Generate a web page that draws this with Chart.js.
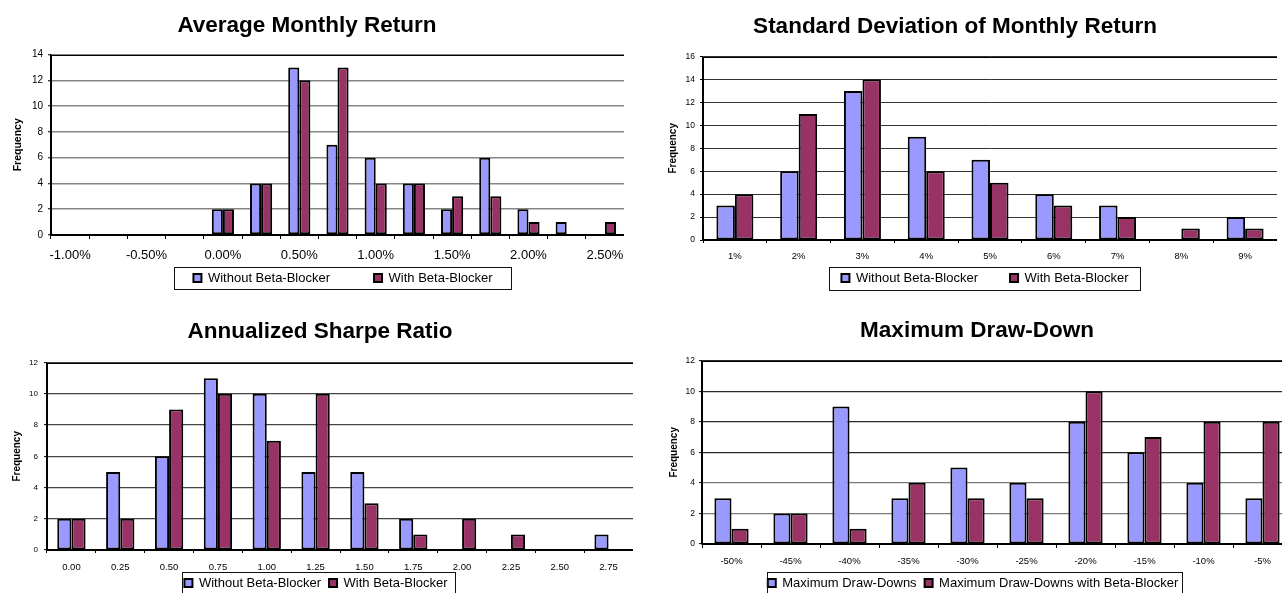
<!DOCTYPE html>
<html>
<head>
<meta charset="utf-8">
<title>Beta-Blocker Histograms</title>
<script src="https://cdn.jsdelivr.net/npm/chart.js@4.4.1/dist/chart.umd.min.js"></script>
<style>
  html, body { margin: 0; padding: 0; background: #fff; overflow: hidden; width: 1282px; height: 593px; position: relative; }
  canvas { position: absolute; }
</style>
</head>
<body>
<canvas id="avgReturn"></canvas>
<canvas id="stdDev"></canvas>
<canvas id="sharpe"></canvas>
<canvas id="drawDown"></canvas>
<script>
// ---- Data ----
const seriesNames = ['Without Beta-Blocker', 'With Beta-Blocker'];
const drawDownNames = ['Maximum Draw-Downs', 'Maximum Draw-Downs with Beta-Blocker'];

const returnBins = ['-1.00%', '-0.75%', '-0.50%', '-0.25%', '0.00%', '0.25%', '0.50%', '0.75%',
                    '1.00%', '1.25%', '1.50%', '1.75%', '2.00%', '2.25%', '2.50%'];
const returnWithout = [0, 0, 0, 0, 2, 4, 13, 7, 6, 4, 2, 6, 2, 1, 0];
const returnWith    = [0, 0, 0, 0, 2, 4, 12, 13, 4, 4, 3, 3, 1, 0, 1];

const stdDevBins = ['1%', '2%', '3%', '4%', '5%', '6%', '7%', '8%', '9%'];
const stdDevWithout = [3, 6, 13, 9, 7, 4, 3, 0, 2];
const stdDevWith    = [4, 11, 14, 6, 5, 3, 2, 1, 1];

const sharpeBins = ['0.00', '0.25', '0.50', '0.75', '1.00', '1.25', '1.50', '1.75', '2.00', '2.25', '2.50', '2.75'];
const sharpeWithout = [2, 5, 6, 11, 10, 5, 5, 2, 0, 0, 0, 1];
const sharpeWith    = [2, 2, 9, 10, 7, 10, 3, 1, 2, 1, 0, 0];

const drawDownBins = ['-50%', '-45%', '-40%', '-35%', '-30%', '-25%', '-20%', '-15%', '-10%', '-5%'];
const drawDownWithout = [3, 2, 9, 3, 5, 4, 8, 6, 4, 3];
const drawDownWith    = [1, 2, 1, 4, 3, 3, 10, 7, 8, 8];

// ---- Styling ----
const BLUE = '#9999FF';
const PLUM = '#993366';
Chart.defaults.font.family = '"Liberation Sans", Arial, Helvetica, sans-serif';
Chart.defaults.color = '#000';

// Plot frame, legend placement and the box around the legend
const framePlugin = {
  id: 'frame',
  beforeDraw(chart, args, o) {
    const lg = chart.legend;
    if (!lg) return;
    const pad = lg.options.labels.padding;
    const fontSize = lg.options.labels.font.size;
    const itemH = Math.max(fontSize, lg.options.labels.boxHeight);
    const w = lg.right - lg.left;
    const cx = o.legendCenter - o.left;
    lg.left = cx - w / 2;
    lg.right = lg.left + w;
    lg.top = o.legendTextY - o.top - itemH / 2 - pad;
    lg.bottom = lg.top + pad + itemH + 12;
  },
  beforeDatasetsDraw(chart, args, o) {
    const a = chart.chartArea;
    const ctx = chart.ctx;
    ctx.save();
    ctx.strokeStyle = '#000';
    ctx.lineWidth = 1;
    ctx.strokeRect(Math.round(a.left) + 0.5, Math.round(a.top) + 0.5,
                   Math.round(a.right - a.left), Math.round(a.bottom - a.top));
    ctx.restore();
  },
  afterDraw(chart, args, o) {
    const ctx = chart.ctx;
    const b = o.legendBox;
    ctx.save();
    ctx.strokeStyle = '#111';
    ctx.lineWidth = 1;
    ctx.strokeRect(Math.round(b[0] - o.left) + 0.5, Math.round(b[2] - o.top) + 0.5,
                   Math.round(b[1] - b[0]), Math.round(b[3] - b[2]));
    ctx.restore();
  }
};

function makeChart(id, spec) {
  const cv = document.getElementById(id);
  cv.width = spec.width;
  cv.height = spec.height;
  cv.style.left = spec.left + 'px';
  cv.style.top = spec.top + 'px';
  cv.style.width = spec.width + 'px';
  cv.style.height = spec.height + 'px';

  return new Chart(cv.getContext('2d'), {
    type: 'bar',
    data: {
      labels: spec.labels,
      datasets: [
        { label: spec.names[0], data: spec.without, backgroundColor: BLUE, borderColor: '#000',
          borderWidth: 2, borderSkipped: false, categoryPercentage: 0.58, barPercentage: 1 },
        { label: spec.names[1], data: spec.withBB, backgroundColor: PLUM, borderColor: '#000',
          borderWidth: 2, borderSkipped: false, categoryPercentage: 0.58, barPercentage: 1 }
      ]
    },
    options: {
      responsive: false,
      animation: false,
      devicePixelRatio: 1,
      events: [],
      layout: { padding: 0 },
      scales: {
        x: {
          grid: { offset: true, drawOnChartArea: false, drawTicks: true, tickLength: spec.xTickLen,
                  tickColor: '#000', tickWidth: 1 },
          border: { display: true, color: '#000', width: 1.5 },
          ticks: {
            autoSkip: false, maxRotation: 0, minRotation: 0,
            padding: spec.xPad,
            font: { size: spec.xFont },
            color: '#000',
            callback: function (v, i) { return i % spec.every === 0 ? this.getLabelForValue(v) : ''; }
          },
          afterFit(s) { s.height = spec.xH; s.paddingLeft = 0; s.paddingRight = 0; }
        },
        y: {
          min: 0, max: spec.yMax,
          ticks: { stepSize: 2, padding: spec.yPad, font: { size: spec.yFont }, color: '#000' },
          grid: { color: spec.gridColor, lineWidth: spec.gridWidth, drawTicks: true, tickLength: 3,
                  tickColor: '#000', tickWidth: 1 },
          border: { display: true, color: '#000', width: 1.5 },
          title: { display: true, text: 'Frequency', font: { size: spec.yTitleFont, weight: 'bold' },
                   padding: { top: spec.yTitlePad, bottom: 0 }, color: '#000' },
          afterFit(s) { s.width = spec.yW; s.paddingTop = 0; s.paddingBottom = 0; }
        }
      },
      plugins: {
        title: {
          display: true, text: spec.title, color: '#000',
          font: { size: 22.5, weight: 'bold' },
          padding: { top: spec.titleTop, bottom: spec.titleBottom }
        },
        legend: {
          position: 'bottom',
          maxHeight: 10,
          labels: { boxWidth: 8, boxHeight: 8, padding: spec.legendGap, font: { size: 13 }, color: '#000' }
        },
        tooltip: { enabled: false },
        frame: {
          left: spec.left, top: spec.top,
          legendCenter: spec.legendCenter, legendTextY: spec.legendTextY,
          legendBox: spec.legendBox
        }
      }
    },
    plugins: [framePlugin]
  });
}

makeChart('avgReturn', {
  title: 'Average Monthly Return', names: seriesNames,
  labels: returnBins, without: returnWithout, withBB: returnWith, every: 2, yMax: 14,
  left: -10, top: 0, width: 634, height: 300,
  titleTop: 12.3, titleBottom: 15.3, yW: 61, xH: 55,
  xFont: 13, xPad: 9, xTickLen: 4, yFont: 10, yPad: 5, yTitleFont: 10.5, yTitlePad: 22,
  gridColor: '#858585', gridWidth: 1.5,
  legendGap: 44, legendCenter: 343, legendTextY: 278, legendBox: [174, 511, 267, 289]
});

makeChart('stdDev', {
  title: 'Standard Deviation of Monthly Return', names: seriesNames,
  labels: stdDevBins, without: stdDevWithout, withBB: stdDevWith, every: 1, yMax: 16,
  left: 633, top: 0, width: 644, height: 300,
  titleTop: 13.3, titleBottom: 16.3, yW: 70, xH: 50,
  xFont: 9.5, xPad: 8, xTickLen: 3, yFont: 8.5, yPad: 5, yTitleFont: 10, yTitlePad: 33.8,
  gridColor: '#333333', gridWidth: 1,
  legendGap: 32, legendCenter: 985, legendTextY: 278, legendBox: [829, 1140, 267, 290]
});

makeChart('sharpe', {
  title: 'Annualized Sharpe Ratio', names: seriesNames,
  labels: sharpeBins, without: sharpeWithout, withBB: sharpeWith, every: 1, yMax: 12,
  left: 7, top: 300, width: 626, height: 293,
  titleTop: 18.3, titleBottom: 17.3, yW: 40, xH: 33,
  xFont: 9.5, xPad: 9, xTickLen: 3, yFont: 8, yPad: 6, yTitleFont: 10, yTitlePad: 4.2,
  gridColor: '#444444', gridWidth: 1.2,
  legendGap: 8, legendCenter: 316, legendTextY: 583, legendBox: [182, 455, 572, 595]
});

makeChart('drawDown', {
  title: 'Maximum Draw-Down', names: drawDownNames,
  labels: drawDownBins, without: drawDownWithout, withBB: drawDownWith, every: 1, yMax: 12,
  left: 662, top: 300, width: 630, height: 293,
  titleTop: 17.3, titleBottom: 16.3, yW: 40, xH: 39,
  xFont: 9.5, xPad: 8, xTickLen: 4, yFont: 8.5, yPad: 4, yTitleFont: 10, yTitlePad: 6,
  gridColor: (c) => (c.tick && (c.tick.value === 2 || c.tick.value === 4)) ? '#7a7a7a' : '#2a2a2a',
  gridWidth: 1.2,
  legendGap: 8, legendCenter: 973, legendTextY: 583, legendBox: [767, 1182, 572, 595]
});
</script>
</body>
</html>
